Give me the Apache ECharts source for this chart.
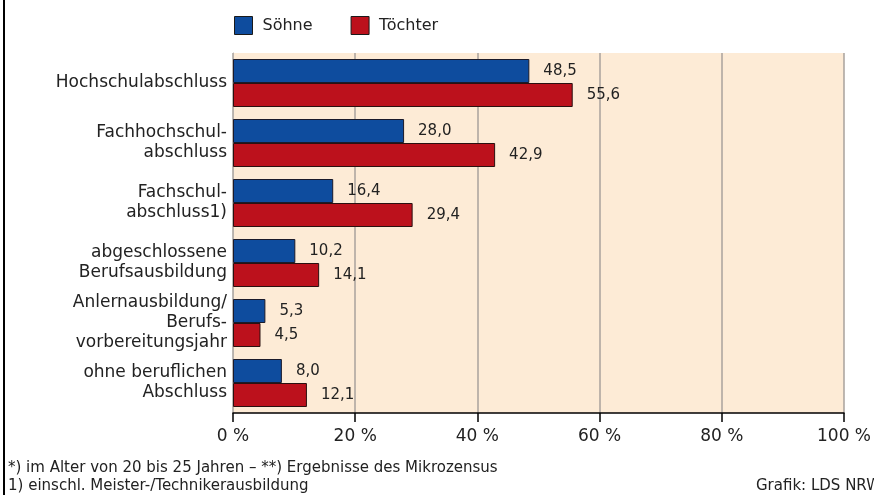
<!DOCTYPE html>
<html>
<head>
<meta charset="utf-8">
<script src="https://cdn.jsdelivr.net/npm/echarts@6/dist/echarts.min.js"></script>
<style>
html, body { margin: 0; padding: 0; background: #fff; }
#chart { width: 874px; height: 495px; }
</style>
</head>
<body>
<div id="chart"></div>
<script>
// Kategorien (von oben nach unten)
var categories = [
    "Hochschulabschluss",
    "Fachhochschul-\nabschluss",
    "Fachschul-\nabschluss1)",
    "abgeschlossene\nBerufsausbildung",
    "Anlernausbildung/\nBerufs-\nvorbereitungsjahr",
    "ohne beruflichen\nAbschluss"
];
var soehne = [48.5, 28.0, 16.4, 10.2, 5.3, 8.0];
var toechter = [55.6, 42.9, 29.4, 14.1, 4.5, 12.1];

var font = "DejaVu Sans";
var chart = echarts.init(document.getElementById("chart"));

// Zahl mit Komma
function fmt(p) {
    return p.value.toFixed(1).replace(".", ",");
}

var option = {
    animation: false,
    textStyle: { fontFamily: font },
    legend: {
        left: 234,
        top: 16,
        padding: 0,
        itemWidth: 18,
        itemHeight: 18,
        itemGap: 38,
        icon: "rect",
        itemStyle: { borderColor: "#1a1a1a", borderWidth: 1 },
        textStyle: { fontSize: 16, color: "#222", fontFamily: font, padding: [0, 0, 0, 5] },
        data: ["Söhne", "Töchter"]
    },
    grid: {
        left: 233,
        right: 28,
        top: 53,
        bottom: 82,
        show: true,
        backgroundColor: "#fdebd6",
        borderWidth: 0
    },
    xAxis: {
        type: "value",
        min: 0,
        max: 100,
        interval: 20,
        axisLine: { show: true, lineStyle: { color: "#000", width: 1.5 } },
        axisTick: { show: true, length: 9, lineStyle: { color: "#000", width: 1.5 } },
        axisLabel: {
            fontSize: 17,
            color: "#222",
            margin: 15,
            formatter: function (v) { return v + " %"; }
        },
        splitLine: { show: true, lineStyle: { color: "#a8a29c", width: 1.5 } }
    },
    yAxis: {
        type: "category",
        inverse: true,
        data: categories,
        axisLine: { show: true, lineStyle: { color: "#b8b2ac", width: 1 } },
        axisTick: { show: false },
        axisLabel: {
            fontSize: 17,
            color: "#222",
            margin: 6,
            lineHeight: 20,
            padding: [5, 0, 0, 0],
            align: "right"
        }
    },
    series: [
        {
            name: "Söhne",
            type: "bar",
            data: soehne,
            barWidth: 24,
            barGap: "0%",
            itemStyle: { color: "#0e4c9e", borderColor: "#1a1a2a", borderWidth: 1 },
            label: {
                show: true,
                position: "right",
                distance: 14,
                fontSize: 15,
                color: "#222",
                formatter: fmt
            }
        },
        {
            name: "Töchter",
            type: "bar",
            data: toechter,
            barWidth: 24,
            itemStyle: { color: "#bc111c", borderColor: "#2a1010", borderWidth: 1 },
            label: {
                show: true,
                position: "right",
                distance: 14,
                fontSize: 15,
                color: "#222",
                padding: [4, 0, 0, 0],
                formatter: fmt
            }
        }
    ],
    graphic: [
        {
            type: "rect",
            shape: { x: 3, y: 0, width: 2, height: 495 },
            style: { fill: "#000" }
        },
        {
            type: "text",
            left: 8,
            top: 459,
            style: {
                text: "*) im Alter von 20 bis 25 Jahren – **) Ergebnisse des Mikrozensus\n1) einschl. Meister-/Technikerausbildung",
                font: "15px " + font,
                lineHeight: 18,
                fill: "#222"
            }
        },
        {
            type: "text",
            left: 756,
            top: 479,
            style: {
                text: "Grafik: LDS NRW",
                font: "15px " + font,
                fill: "#222"
            }
        }
    ]
};

chart.setOption(option);
</script>
</body>
</html>
